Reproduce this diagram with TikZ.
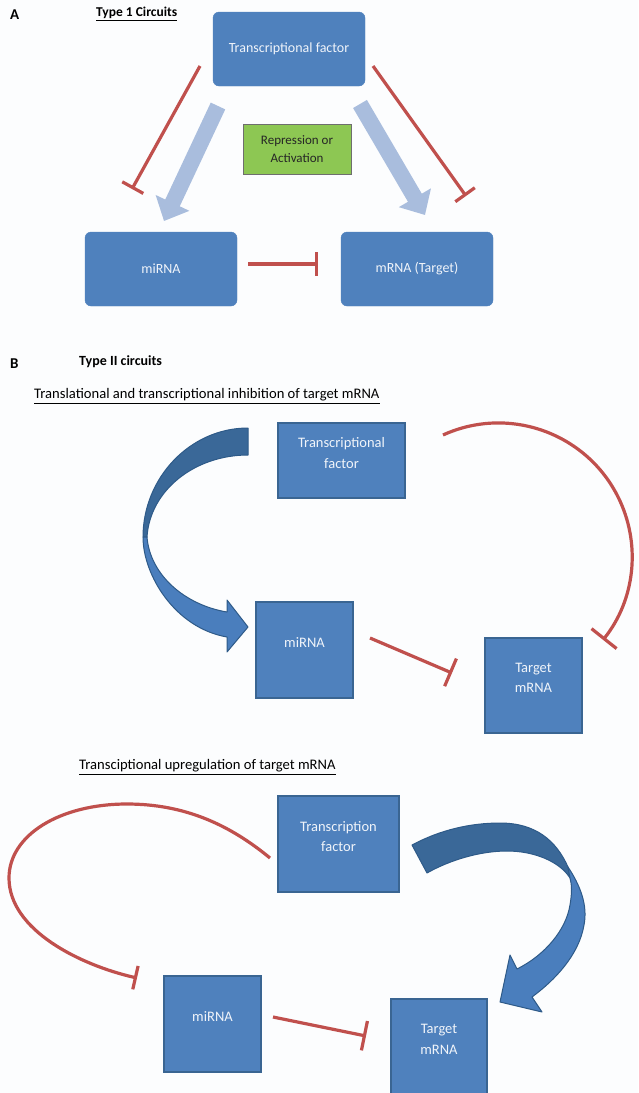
\documentclass[tikz,border=0pt]{standalone}
\usepackage{fontspec}
\setmainfont{Carlito}
\usetikzlibrary{arrows.meta}
\definecolor{boxblue}{HTML}{4F81BD}
\definecolor{boxedge}{HTML}{3A6592}
\definecolor{inhred}{HTML}{C0504D}
\definecolor{paleblue}{HTML}{A9BDDD}
\definecolor{leafgreen}{HTML}{8DC753}
\definecolor{greyedge}{HTML}{6E6E6E}
\definecolor{arrowdark}{HTML}{3A6898}
\definecolor{arrowlight}{HTML}{4A7EBD}
\definecolor{arrowedge}{HTML}{2E5A88}
\definecolor{bgcol}{HTML}{FCFDFE}
\definecolor{boxtext}{HTML}{F0F4FA}
\begin{document}
\begin{tikzpicture}[x=1pt,y=-1pt,
  roundbox/.style={draw=boxblue, fill=boxblue, rounded corners=6pt, minimum width=152pt, minimum height=74pt, inner sep=0pt, text=boxtext, font=\fontsize{14}{18}\selectfont},
  sqbox/.style={draw=boxedge, line width=1.5pt, fill=boxblue, inner sep=0pt},
  boxlabel/.style={text=boxtext, font=\fontsize{14.5}{20.5}\selectfont, align=center, inner sep=0pt},
  inhib/.style={draw=inhred, line width=3.2pt, -{Bar[width=#1, line width=3.2pt]}},
  inhib/.default=24pt,
  fatarrow/.style={draw=paleblue, line width=16pt, -{Triangle[width=36pt,length=20pt]}},
  title/.style={font=\fontsize{14.6}{16}\selectfont, anchor=west, inner sep=0pt},
  curvedark/.style={fill=arrowdark, draw=arrowedge, line width=1pt, line join=round},
  curvelight/.style={fill=arrowlight, draw=arrowedge, line width=1pt, line join=round},
]
\fill[bgcol] (0,0) rectangle (638,1093);
\useasboundingbox (0,0) rectangle (638,1093);

% ---------- Panel A ----------
\node[title, font=\bfseries\fontsize{15}{16}\selectfont] (labA) at (10,15) {A};
\node[title, font=\bfseries\fontsize{13.5}{16}\selectfont] (t1) at (96,14) {\underline{Type 1 Circuits}};

\node[roundbox] (tfA) at (289,49) {Transcriptional factor};
\node[draw=greyedge, fill=leafgreen, minimum width=108pt, minimum height=50pt, inner sep=0pt, align=center, font=\fontsize{13}{18}\selectfont, text=black!85] (ra) at (297,149) {Repression or\\Activation};
\node[roundbox] (miA) at (161,269) {miRNA};
\node[roundbox] (mrA) at (417,269) {mRNA (Target)};

\coordinate (a1s) at (218,106); \coordinate (a1e) at (164,221);
\coordinate (a2s) at (360,104); \coordinate (a2e) at (425,215);
\draw[fatarrow] (a1s) -- (a1e);
\draw[fatarrow] (a2s) -- (a2e);

\coordinate (r1s) at (200,66); \coordinate (r1e) at (132,189);
\coordinate (r2s) at (373,66); \coordinate (r2e) at (466,196);
\coordinate (r3s) at (248,264); \coordinate (r3e) at (318,264);
\draw[inhib] (r1s) -- (r1e);
\draw[inhib] (r2s) -- (r2e);
\draw[inhib] (r3s) -- (r3e);

% ---------- Panel B, top ----------
\node[title, font=\bfseries\fontsize{15}{16}\selectfont] (labB) at (10,364) {B};
\node[title, font=\bfseries\fontsize{14}{16}\selectfont] (t2) at (79,362) {Type II circuits};
\node[title] (t3) at (34,396) {\underline{Translational and transcriptional inhibition of target mRNA}};

\node[sqbox, minimum width=127pt, minimum height=75pt, label={[boxlabel, name=tfBt, yshift=7.5pt]center:{Transcriptional\\factor}}] (tfB) at (341.5,460.5) {};
\node[sqbox, minimum width=97pt, minimum height=96pt, label={[boxlabel, name=miBt, yshift=7.5pt]center:{miRNA}}] (miB) at (304.5,650) {};
\node[sqbox, minimum width=97pt, minimum height=95pt, label={[boxlabel, name=tgBt, yshift=7.5pt]center:{Target\\mRNA}}] (tgB) at (533.5,685.5) {};

% curved arrow TF -> miRNA
\path[curvedark] (248,428) .. controls (190,428) and (143,478) .. (143,537)
  -- (147,537) .. controls (150,490) and (195,455) .. (248,455) -- cycle;
\path[curvelight] (143,537) .. controls (143,575) and (175,628) .. (227,637)
  -- (227,652) -- (248,627) -- (227,600) -- (227,612)
  .. controls (185,605) and (150,575) .. (147,537) -- cycle;

\coordinate (b1s) at (443,435);
\draw[inhib=32pt] (b1s) arc[start angle=245.5, end angle=398.5, radius=133.7];
\coordinate (b2s) at (370,638); \coordinate (b2e) at (452,673);
\draw[inhib=30pt] (b2s) -- (b2e);

% ---------- Panel B, bottom ----------
\node[title] (t4) at (79,767) {\underline{Transciptional upregulation of target mRNA}};

\node[sqbox, minimum width=121pt, minimum height=96pt, label={[boxlabel, name=tfCt, yshift=7.5pt]center:{Transcription\\factor}}] (tfC) at (338.5,844) {};
\node[sqbox, minimum width=97pt, minimum height=96pt, label={[boxlabel, name=miCt, yshift=7.5pt]center:{miRNA}}] (miC) at (212.5,1024) {};
\node[sqbox, minimum width=96pt, minimum height=96pt, label={[boxlabel, name=tgCt, yshift=7.5pt]center:{Target\\mRNA}}] (tgC) at (439,1047) {};

% curved arrow TF -> Target
\path[curvedark] (412,845) .. controls (440,830) and (470,823) .. (500,823)
  .. controls (535,823) and (556,840) .. (568,867) -- (570,878)
  .. controls (560,862) and (535,851) .. (507,851)
  .. controls (480,851) and (450,860) .. (427,873) -- cycle;
\path[curvelight] (568,867) .. controls (580,885) and (588,905) .. (584,925)
  .. controls (579,955) and (555,980) .. (532,997)
  -- (542,1012) -- (500,1002) -- (510,955) -- (517,969)
  .. controls (545,955) and (566,930) .. (570,905)
  .. controls (572,893) and (572,885) .. (570,878) -- cycle;

\coordinate (c1s) at (270,858); \coordinate (c1e) at (137,978);
\draw[inhib=24pt] (c1s) .. controls (230,825) and (185,804) .. (127,804)
  .. controls (60,804) and (9,835) .. (9,878)
  .. controls (9,930) and (80,965) .. (c1e);
\coordinate (c2s) at (273,1017); \coordinate (c2e) at (366,1036);
\draw[inhib=30pt] (c2s) -- (c2e);
\end{tikzpicture}
\end{document}
